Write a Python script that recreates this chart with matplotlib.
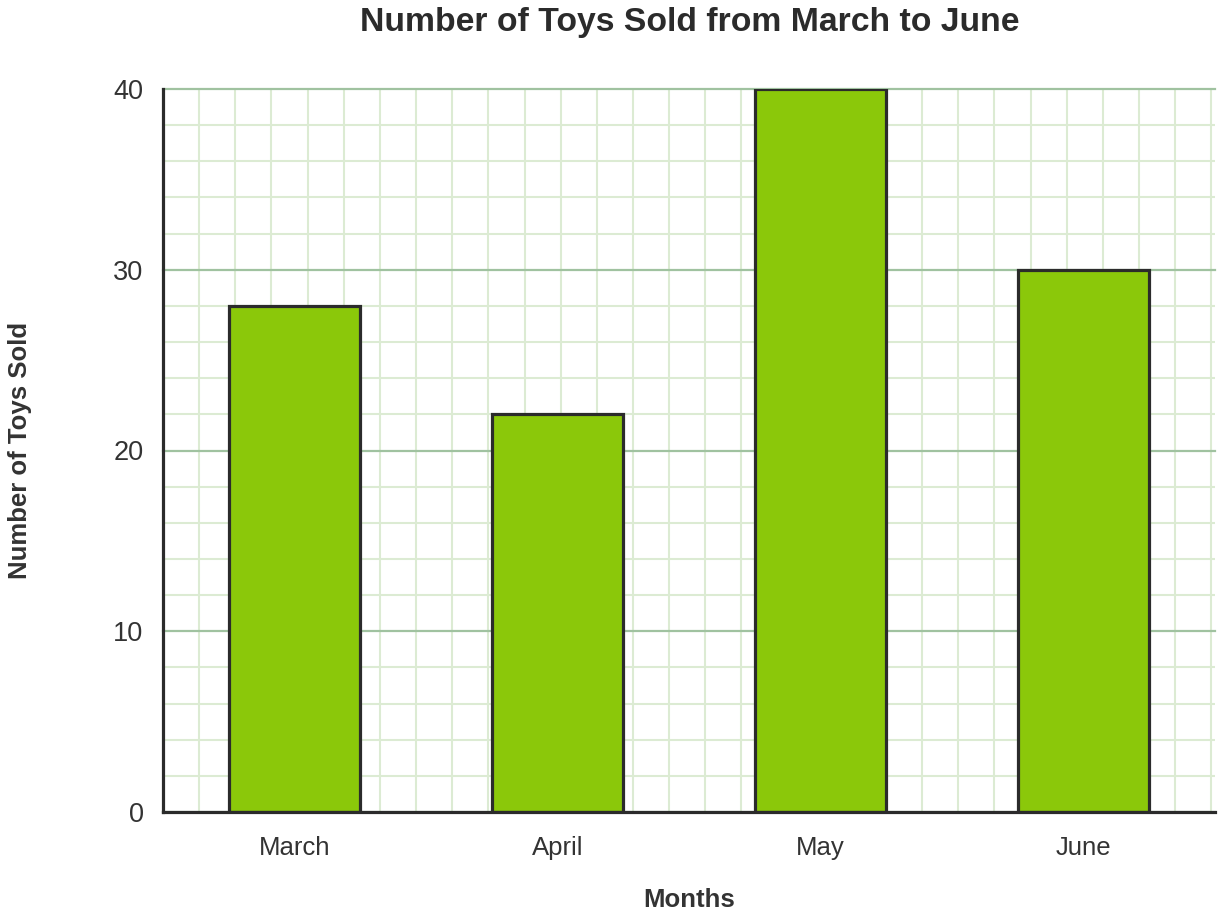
import matplotlib.pyplot as plt
import numpy as np

months = ['March', 'April', 'May', 'June']
toys_sold = [28, 22, 40, 30]
y_ticks = [0, 10, 20, 30, 40]

plt.rcParams['font.family'] = ['Liberation Sans', 'DejaVu Sans']

fig = plt.figure(figsize=(12.24, 9.17), dpi=100)
ax = fig.add_axes([163 / 1224, 105 / 917, 1052 / 1224, 723 / 917])

x = np.arange(len(months))
ax.bar(x, toys_sold, width=0.5, color='#8bc80a', edgecolor='#2b2b2b',
       linewidth=2.3, zorder=3)

ax.set_xlim(-0.5, len(months) - 0.5)
ax.set_ylim(0, 40)

# square paper-like grid: minor cells of 2 units on y, same pixel size on x
step_y = 2
px_per_y = 723 / 40
px_per_x = 1052 / len(months)
step_x = step_y * px_per_y / px_per_x
ax.set_xticks(x)
ax.set_xticklabels(months)
ax.set_xticks(np.arange(-0.5 + step_x, len(months) - 0.5, step_x), minor=True)
ax.set_yticks(y_ticks)
ax.set_yticks(np.arange(0, 41, step_y), minor=True)

ax.grid(which='minor', color='#dcebd3', linewidth=1.5, zorder=0)
ax.grid(which='major', axis='y', color='#a0c2a0', linewidth=1.6, zorder=1)
ax.grid(which='major', axis='x', visible=False)
ax.set_axisbelow(True)
for line in ax.get_ygridlines():
    line.set_clip_on(False)

ax.tick_params(which='both', length=0)
ax.tick_params(axis='x', labelsize=18.5, pad=17, colors='#333333')
ax.tick_params(axis='y', labelsize=19.5, pad=14, colors='#333333')

for side in ['top', 'right']:
    ax.spines[side].set_visible(False)
for side in ['left', 'bottom']:
    ax.spines[side].set_color('#2b2b2b')
    ax.spines[side].set_linewidth(2.3)
    ax.spines[side].set_zorder(4)

fig.text(690 / 1224, 1 - 22 / 917, 'Number of Toys Sold from March to June',
         ha='center', va='center', fontsize=24.3, fontweight='bold', color='#2b2b2b')
ax.set_xlabel('Months', fontsize=18.5, fontweight='bold', color='#333333', va='center')
ax.xaxis.set_label_coords(0.5005, -0.1217)
ax.set_ylabel('Number of Toys Sold', fontsize=18.5, fontweight='bold', color='#333333',
              va='center')
ax.yaxis.set_label_coords(-0.136, 0.5)

plt.savefig('out.png', dpi=100)
